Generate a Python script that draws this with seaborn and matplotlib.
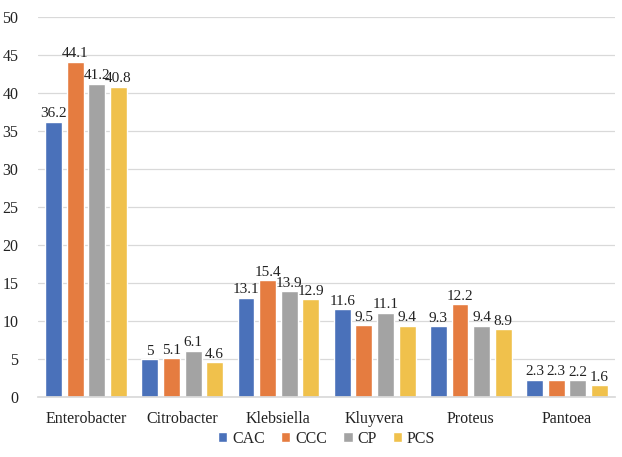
import matplotlib
matplotlib.use("Agg")
import matplotlib.pyplot as plt
import seaborn as sns
import pandas as pd

categories = ["Enterobacter", "Citrobacter", "Klebsiella", "Kluyvera", "Proteus", "Pantoea"]
series = ["CAC", "CCC", "CP", "PCS"]
cac = [36.2, 5, 13.1, 11.6, 9.3, 2.3]
ccc = [44.1, 5.1, 15.4, 9.5, 12.2, 2.3]
cp = [41.2, 6.1, 13.9, 11.1, 9.4, 2.2]
pcs = [40.8, 4.6, 12.9, 9.4, 8.9, 1.6]
colors = ["#4A71BA", "#E57C40", "#A3A3A3", "#F0C14C"]

rows = []
for name, vals in zip(series, [cac, ccc, cp, pcs]):
    for cat, v in zip(categories, vals):
        rows.append({"genus": cat, "group": name, "value": v})
df = pd.DataFrame(rows)

sns.set_theme(style="white")
plt.rcParams["font.family"] = ["Liberation Serif", "DejaVu Serif"]

fig = plt.figure(figsize=(6.22, 4.57), dpi=100)
ax = fig.add_axes([0.061, 0.131, 0.928, 0.832])

sns.barplot(data=df, x="genus", y="value", hue="group", order=categories,
            hue_order=series, palette=colors, width=0.9, gap=0.22,
            saturation=1, ax=ax, legend=True)

for cont in ax.containers:
    labels = [f"{v:g}" for v in cont.datavalues]
    ax.bar_label(cont, labels=labels, padding=1, fontsize=11, color="#222222")

ax.set_ylim(0, 50)
ax.set_yticks(range(0, 51, 5))
ax.set_xlim(-0.5, 5.5)
ax.yaxis.grid(True, color="#D9D9D9", linewidth=0.9)
ax.set_axisbelow(True)
for s in ["top", "right", "left"]:
    ax.spines[s].set_visible(False)
ax.spines["bottom"].set_color("#D9D9D9")
ax.tick_params(axis="both", length=0, labelsize=11.5, colors="#222222")
ax.tick_params(axis="x", pad=10)
ax.tick_params(axis="y", pad=14)
ax.set_xlabel("")
ax.set_ylabel("")

ax.legend(loc="center", bbox_to_anchor=(0.5, -0.11), ncol=4, frameon=False,
          fontsize=11.5, handlelength=0.6, handleheight=0.6, handletextpad=0.3,
          columnspacing=1.0, borderpad=0.2)

fig.savefig("out.png", dpi=100, facecolor="white")
